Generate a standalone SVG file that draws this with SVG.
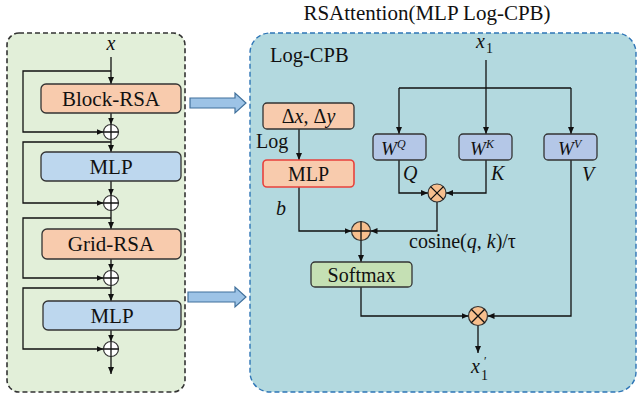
<svg xmlns="http://www.w3.org/2000/svg" width="638" height="399" viewBox="0 0 638 399">
<defs>
<marker id="ah" markerUnits="userSpaceOnUse" markerWidth="8" markerHeight="6" refX="7" refY="3" orient="auto">
<path d="M0,0 L7,3 L0,6 z" fill="#111"/>
</marker>
<style>
.t{font-family:"Liberation Serif","Times New Roman",serif;font-size:20px;fill:#111}
.i{font-style:italic}
.box{stroke:#333;stroke-width:1.3}
.ln{fill:none;stroke:#111;stroke-width:1.3}
.ar{fill:none;stroke:#111;stroke-width:1.3;marker-end:url(#ah)}
.peach{fill:#f8cbad}
.blue{fill:#bdd7ee}
.lav{fill:#b4c7e7}
.green{fill:#c5e0b4}
.op{fill:#f7bf8e;stroke:#333;stroke-width:1.2}
.opw{fill:#fff;stroke:#333;stroke-width:1.2}
.big{fill:#9dc3e6;stroke:#41719c;stroke-width:1.2}
</style>
</defs>

<g id="left-panel">
<rect x="7" y="33" width="178" height="359" rx="12" fill="#e2efd9" stroke="#333" stroke-width="1.6" stroke-dasharray="5,3"/>
</g>
<g id="right-panel">
<rect x="250" y="33" width="386" height="359" rx="20" fill="#b3d9df" stroke="#2e75b6" stroke-width="1.4" stroke-dasharray="5,3"/>
</g>

<text class="t" x="427" y="20" text-anchor="middle" style="font-size:21px">RSAttention(MLP Log-CPB)</text>
<text class="t" x="270" y="62" style="font-size:20.5px">Log-CPB</text>

<g id="transfer-arrows">
<path class="big" d="M190,98 H235 V93 L246,103 L235,113 V108 H190 Z"/>
<path class="big" d="M188,292 H235 V287 L246,297 L235,307 V302 H188 Z"/>
</g>

<g id="connectors">
<path class="ar" d="M111,57 V84"/>
<path class="ar" d="M111,113 V124.5"/>
<path class="ar" d="M111,71 H23 V132 H103.5"/>
<path class="ar" d="M111,139.5 V152"/>
<path class="ar" d="M111,142 H23 V203 H103.5"/>
<path class="ar" d="M111,181 V195.5"/>
<path class="ar" d="M111,210.5 V229"/>
<path class="ar" d="M111,218 H23 V278 H103.5"/>
<path class="ar" d="M111,259 V270.5"/>
<path class="ar" d="M111,285.5 V301"/>
<path class="ar" d="M111,288 H23 V349 H103.5"/>
<path class="ar" d="M111,330 V341.5"/>
<path class="ar" d="M111,356.5 V374"/>
<path class="ar" d="M486,60 V134"/>
<path class="ln" d="M399,88 H571"/>
<path class="ar" d="M399,88 V134"/>
<path class="ar" d="M571,88 V134"/>
<path class="ar" d="M399,160 V193 H428"/>
<path class="ar" d="M486,160 V193 H446"/>
<path class="ar" d="M437,202 V231 H370.5"/>
<path class="ar" d="M299,129 V160"/>
<path class="ar" d="M299,187 V231 H351.5"/>
<path class="ar" d="M361,240.5 V262"/>
<path class="ar" d="M361,287 V316 H468.5"/>
<path class="ar" d="M571,160 V316 H487.5"/>
<path class="ar" d="M478,325.5 V353"/>
</g>

<text class="t i" x="111" y="50" text-anchor="middle">x</text>
<g id="block-rsa">
<rect class="box peach" x="41" y="84" width="140" height="29" rx="5"/>
<text class="t" x="111" y="106" text-anchor="middle" style="font-size:21px">Block-RSA</text>
</g>
<g id="add1">
<circle class="opw" cx="111" cy="132" r="7.5"/>
<path class="ln" d="M103.5,132 H118.5 M111,124.5 V139.5"/>
</g>
<g id="mlp1">
<rect class="box blue" x="41" y="152" width="140" height="29" rx="5"/>
<text class="t" x="111" y="174" text-anchor="middle" style="font-size:21px">MLP</text>
</g>
<g id="add2">
<circle class="opw" cx="111" cy="203" r="7.5"/>
<path class="ln" d="M103.5,203 H118.5 M111,195.5 V210.5"/>
</g>
<g id="grid-rsa">
<rect class="box peach" x="42" y="229" width="139" height="30" rx="5"/>
<text class="t" x="111" y="251" text-anchor="middle" style="font-size:21px">Grid-RSA</text>
</g>
<g id="add3">
<circle class="opw" cx="111" cy="278" r="7.5"/>
<path class="ln" d="M103.5,278 H118.5 M111,270.5 V285.5"/>
</g>
<g id="mlp2">
<rect class="box blue" x="43" y="301" width="138" height="29" rx="5"/>
<text class="t" x="112" y="323" text-anchor="middle" style="font-size:21px">MLP</text>
</g>
<g id="add4">
<circle class="opw" cx="111" cy="349" r="7.5"/>
<path class="ln" d="M103.5,349 H118.5 M111,341.5 V356.5"/>
</g>

<g id="x1-label">
<text class="t i" x="476" y="48">x</text>
<text class="t" x="486" y="53" style="font-size:14px">1</text>
</g>
<g id="wq">
<rect class="box lav" x="373" y="134" width="53" height="26" rx="4"/>
<text class="t i" x="389" y="155" text-anchor="middle" style="font-size:19px">W</text>
<text class="t i" x="397" y="148" style="font-size:12px">Q</text>
</g>
<g id="wk">
<rect class="box lav" x="459" y="134" width="53" height="26" rx="4"/>
<text class="t i" x="478" y="155" text-anchor="middle" style="font-size:19px">W</text>
<text class="t i" x="486" y="148" style="font-size:12px">K</text>
</g>
<g id="wv">
<rect class="box lav" x="544" y="134" width="53" height="26" rx="4"/>
<text class="t i" x="566" y="155" text-anchor="middle" style="font-size:19px">W</text>
<text class="t i" x="574" y="148" style="font-size:12px">V</text>
</g>
<text class="t i" x="403" y="180">Q</text>
<text class="t i" x="491" y="180">K</text>
<text class="t i" x="582" y="181">V</text>
<g id="mul1">
<circle class="op" cx="437" cy="193" r="9"/>
<path class="ln" d="M430.6,186.6 L443.4,199.4 M443.4,186.6 L430.6,199.4"/>
</g>
<g id="delta">
<rect class="box peach" x="263" y="103" width="91" height="26" rx="4"/>
<text class="t" x="308.5" y="123" text-anchor="middle">Δ<tspan class="i">x</tspan>, Δ<tspan class="i">y</tspan></text>
</g>
<text class="t" x="256" y="148">Log</text>
<g id="mlp-cpb">
<rect class="peach" x="263" y="160" width="91" height="27" rx="4" stroke="#e8413c" stroke-width="1.6"/>
<text class="t" x="308.5" y="181" text-anchor="middle">MLP</text>
</g>
<text class="t i" x="276" y="215">b</text>
<g id="add-bias">
<circle class="op" cx="361" cy="231" r="9.5"/>
<path class="ln" d="M351.5,231 H370.5 M361,221.5 V240.5"/>
</g>
<text class="t" x="409" y="248">cosine(<tspan class="i">q</tspan>, <tspan class="i">k</tspan>)/τ</text>
<g id="softmax">
<rect class="box green" x="311" y="262" width="101" height="25" rx="4"/>
<text class="t" x="361.5" y="282" text-anchor="middle">Softmax</text>
</g>
<g id="mul2">
<circle class="op" cx="478" cy="316" r="9.5"/>
<path class="ln" d="M471.3,309.3 L484.7,322.7 M484.7,309.3 L471.3,322.7"/>
</g>
<g id="out-label">
<text class="t i" x="471" y="373">x</text>
<text class="t" x="481" y="380" style="font-size:14px">1</text>
<text class="t" x="484" y="365" style="font-size:12px">′</text>
</g>
</svg>
